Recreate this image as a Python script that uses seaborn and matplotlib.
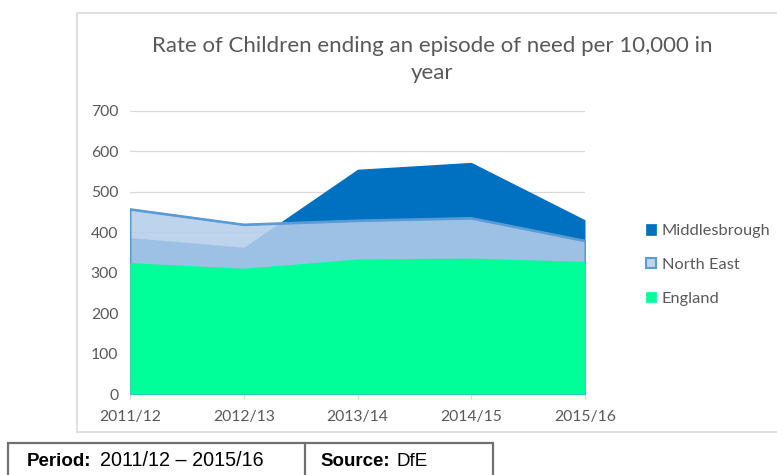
import matplotlib
matplotlib.use("Agg")
import matplotlib.pyplot as plt
from matplotlib.patches import Patch, Rectangle
import numpy as np
import pandas as pd
import seaborn as sns

# Rate of children ending an episode of need per 10,000 (DfE)
years = ["2011/12", "2012/13", "2013/14", "2014/15", "2015/16"]
middlesbrough = [387, 363, 556, 573, 431]
north_east = [457, 419, 429, 435, 379]
england = [325, 311, 334, 336, 328]

W, H = 777, 475
sns.set_theme(style="white")
plt.rcParams["font.family"] = ["Lato", "DejaVu Sans"]

fig = plt.figure(figsize=(W / 100, H / 100), dpi=100)


def fx(px):
    return px / W


def fy(py):
    return 1 - py / H


# chart frame
fig.patches.append(Rectangle((fx(77), fy(432)), fx(800) - fx(77), fy(13) - fy(432),
                             transform=fig.transFigure, facecolor="white",
                             edgecolor="#D9D9D9", linewidth=1.2, zorder=-5))

ax = fig.add_axes([fx(130), fy(394), fx(585) - fx(130), fy(111) - fy(394)])
ax.set_zorder(2)
ax.set_facecolor("none")

df = pd.DataFrame({"year": years, "Middlesbrough": middlesbrough,
                   "North East": north_east, "England": england})
x = np.arange(len(years))

c_mid = "#0070C0"
c_ne_fill = (180 / 255, 206 / 255, 234 / 255, 0.87)
c_ne_edge = "#5B9BD5"
c_eng = "#00FF99"

ax.fill_between(x, 0, df["Middlesbrough"], color=c_mid, linewidth=0, zorder=2)
ax.fill_between(x, 0, df["North East"], facecolor=c_ne_fill, edgecolor=c_ne_edge,
                linewidth=1.5, zorder=3)
sns.lineplot(x=x, y=df["North East"], ax=ax, color=c_ne_edge, linewidth=1.6, zorder=4)
ax.fill_between(x, 0, df["England"], color=c_eng, linewidth=0, zorder=5)

ax.set_xlim(0, len(years) - 1)
ax.set_ylim(0, 700)
ax.set_yticks(range(0, 701, 100))
ax.set_xticks(x)
ax.set_xticklabels(years)
ax.set_xlabel("")
ax.set_ylabel("")
ax.grid(axis="y", color="#D9D9D9", linewidth=0.9, zorder=1)
ax.set_axisbelow(True)
for side in ["top", "right", "left"]:
    ax.spines[side].set_visible(False)
ax.spines["bottom"].set_color("#D9D9D9")
ax.spines["bottom"].set_linewidth(0.9)
ax.tick_params(axis="y", length=0, pad=8.5, labelsize=11.3, labelcolor="#595959")
ax.tick_params(axis="x", bottom=True, length=3.6, width=0.9, color="#D9D9D9", pad=8,
               labelsize=11.3, labelcolor="#595959")

fig.text(fx(432), fy(46), "Rate of Children ending an episode of need per 10,000 in",
         ha="center", va="center", fontsize=16, color="#595959")
fig.text(fx(432), fy(73), "year", ha="center", va="center", fontsize=16, color="#595959")

handles = [
    Patch(facecolor=c_mid, edgecolor=c_mid, linewidth=0.5),
    Patch(facecolor=c_ne_fill, edgecolor=c_ne_edge, linewidth=1.5),
    Patch(facecolor=c_eng, edgecolor=c_eng, linewidth=0.5),
]
leg = fig.legend(handles, ["Middlesbrough", "North East", "England"],
                 loc="center left", bbox_to_anchor=(fx(646), fy(265)), frameon=False,
                 fontsize=11.8, labelcolor="#595959", handlelength=0.6,
                 handleheight=0.6, handletextpad=0.35, labelspacing=1.2,
                 borderaxespad=0, borderpad=0)

# source table beneath the chart
tcol = "#707070"
fig.patches.append(Rectangle((fx(8), fy(490)), fx(493) - fx(8), fy(443) - fy(490),
                             transform=fig.transFigure, facecolor="white",
                             edgecolor=tcol, linewidth=1.6, zorder=1))
fig.lines.append(plt.Line2D([fx(305), fx(305)], [fy(443), fy(490)],
                            transform=fig.transFigure, color=tcol, linewidth=1.6))
tfont = ["Liberation Sans", "DejaVu Sans"]
fig.text(fx(27), fy(461), "Period:", ha="left", va="center", fontsize=13.5,
         fontweight="bold", family=tfont, color="black")
fig.text(fx(100), fy(461), "2011/12 \u2013 2015/16", ha="left", va="center",
         fontsize=14.2, family=tfont, color="black")
fig.text(fx(320), fy(461), "Source:", ha="left", va="center", fontsize=13.5,
         fontweight="bold", family=tfont, color="black")
fig.text(fx(396), fy(461), "DfE", ha="left", va="center", fontsize=13.5,
         family=tfont, color="black")

fig.savefig("out.png", dpi=100)
